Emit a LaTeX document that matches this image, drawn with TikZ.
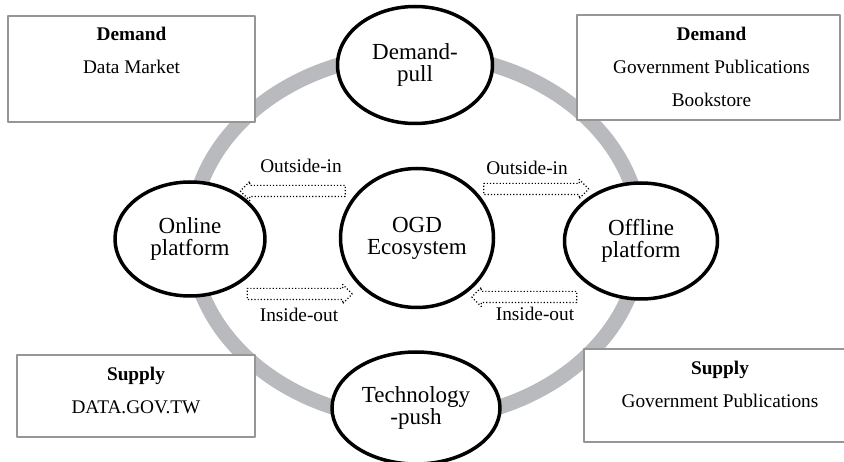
\documentclass[tikz,border=0pt]{standalone}
\usepackage{fontspec}
\setmainfont{Liberation Serif}
\usetikzlibrary{positioning,shapes.geometric,shapes.arrows}
\definecolor{ringgray}{RGB}{185,186,190}
\definecolor{boxgray}{RGB}{150,150,150}
\tikzset{
  oval/.style={ellipse, draw, line width=3.5pt, fill=white, inner sep=0pt, align=center, font=\fontsize{23}{22}\selectfont},
  infobox/.style={rectangle, draw=boxgray, line width=1.2pt, fill=white},
  infotext/.style={inner sep=0pt, align=center, font=\fontsize{19.3}{33}\selectfont},
  flow/.style={single arrow, draw, dotted, line width=1.2pt, inner sep=0pt, inner ysep=5pt, text height=0pt, text depth=0pt, single arrow head extend=4pt, minimum height=105pt},
  flowlbl/.style={inner sep=0pt, anchor=base, font=\fontsize{19.3}{23}\selectfont}
}
\begin{document}
\begin{tikzpicture}[x=1pt, y=-1pt, line join=round]
\def\cx{416} \def\cy{237} % ring centre
\useasboundingbox (0,0) rectangle (844,462);
\draw[ringgray, line width=15pt] (\cx,\cy) ellipse [x radius=225, y radius=183];
% boxes
\node[infobox, minimum width=247pt, minimum height=106pt] (boxTL) at (131.5,69) {};
\node[infobox, minimum width=263pt, minimum height=105pt] (boxTR) at (708.5,67.5) {};
\node[infobox, minimum width=238pt, minimum height=82pt] (boxBL) at (136,396) {};
\node[infobox, minimum width=272pt, minimum height=93pt] (boxBR) at (720,395.5) {};
\node[infotext, below=12pt of boxTL.north] (txtTL) {\textbf{Demand}\\Data Market};
\node[infotext, below=13pt of boxTR.north, xshift=3pt] (txtTR) {\textbf{Demand}\\Government Publications\\Bookstore};
\node[infotext, below=13pt of boxBL.north] (txtBL) {\textbf{Supply}\\DATA.GOV.TW};
\node[infotext, below=13pt of boxBR.north] (txtBR) {\textbf{Supply}\\Government Publications};
% ovals
\node[oval, minimum width=155pt, minimum height=117pt] (ovDP) at (415,65) {Demand-\\pull};
\node[oval, minimum width=168pt, minimum height=112pt] (ovTP) at (416,408) {Technology\\-push};
\node[oval, minimum width=150pt, minimum height=114pt] (ovON) at (190,239) {Online\\platform};
\node[oval, minimum width=153pt, minimum height=116pt] (ovOF) at (641,241) {Offline\\platform};
\node[oval, minimum width=153pt, minimum height=139pt] (ovOGD) at (417,238) {OGD\\Ecosystem};
% flows
\node[flow, shape border rotate=180] (flA) at (295.5,191) {};
\node[flow] (flB) at (533.5,189) {};
\node[flow] (flC) at (297,294) {};
\node[flow, shape border rotate=180] (flD) at (527,297) {};
\node[flowlbl] (lbA) at (301,173) {Outside-in};
\node[flowlbl] (lbB) at (527,175) {Outside-in};
\node[flowlbl] (lbC) at (299,322) {Inside-out};
\node[flowlbl] (lbD) at (535,321) {Inside-out};
\end{tikzpicture}
\end{document}
